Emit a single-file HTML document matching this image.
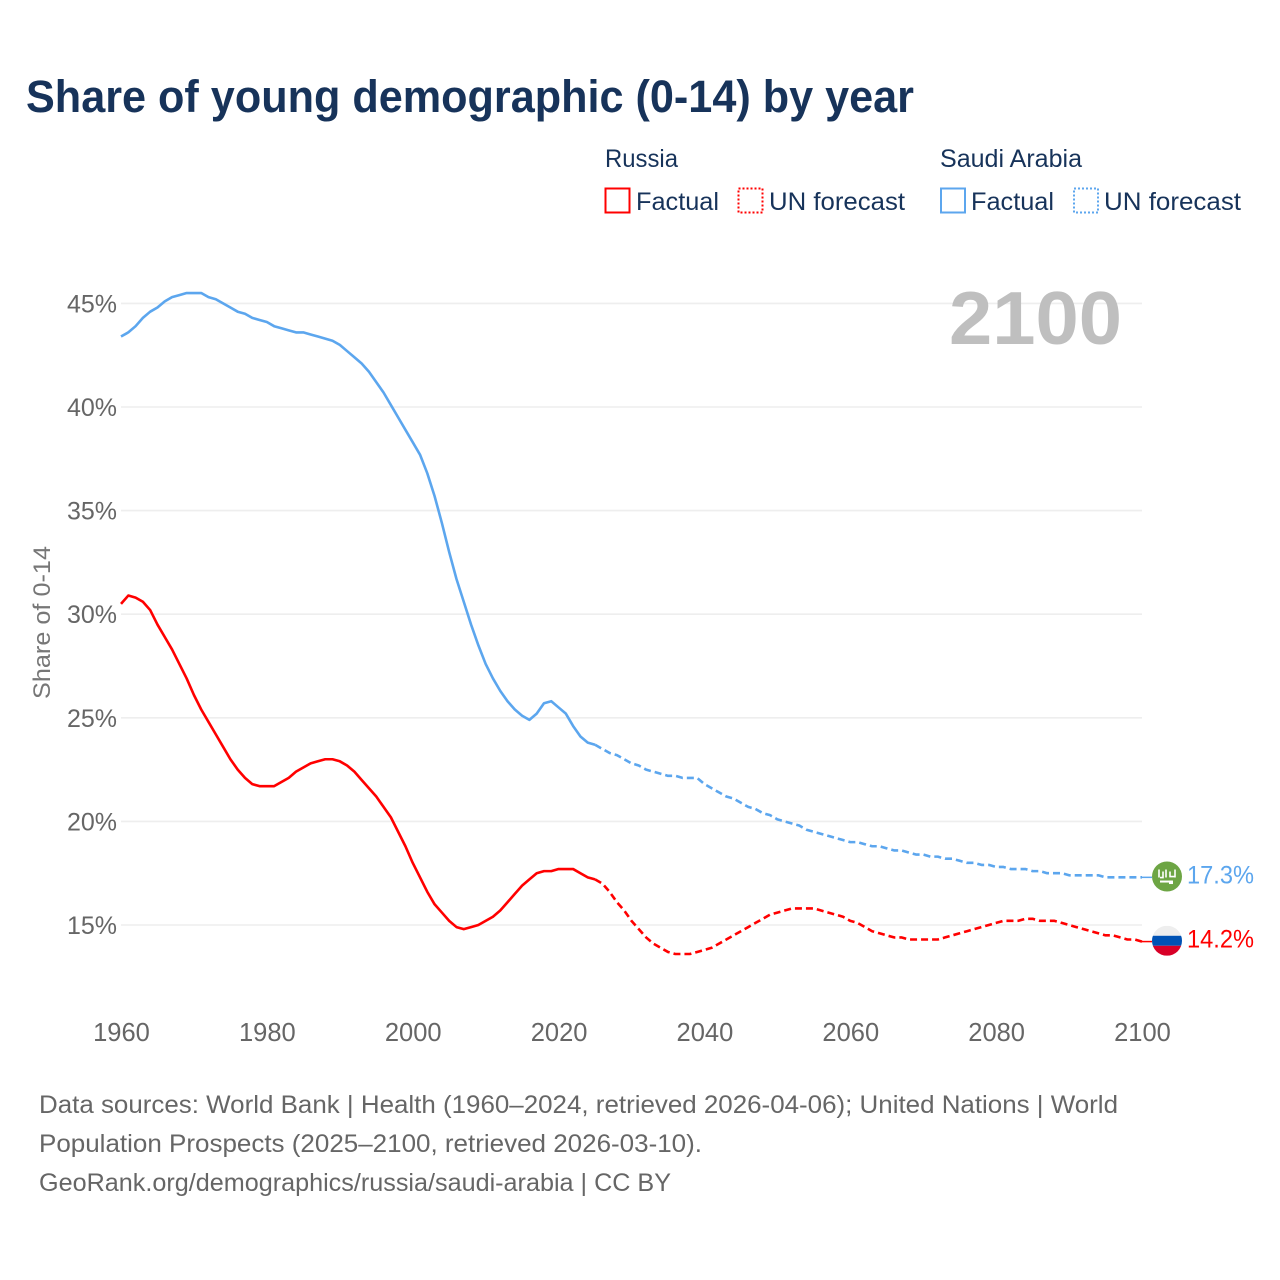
<!DOCTYPE html>
<html lang="en">
<head>
<meta charset="utf-8">
<title>Share of young demographic (0-14) by year</title>
<style>
html,body{margin:0;padding:0;background:#fff;}
svg{display:block;font-family:"Liberation Sans",sans-serif;}
</style>
</head>
<body>
<svg id="chart" xmlns="http://www.w3.org/2000/svg" width="1280" height="1280" viewBox="0 0 1280 1280">
  <rect x="0" y="0" width="1280" height="1280" fill="#ffffff"/>
  <text x="26" y="112" font-size="45" font-weight="700" fill="#17335a" textLength="888" lengthAdjust="spacingAndGlyphs">Share of young demographic (0-14) by year</text>

  <g font-size="25" fill="#17335a">
    <text x="605" y="167" textLength="73" lengthAdjust="spacingAndGlyphs">Russia</text>
    <text x="940" y="167" textLength="142" lengthAdjust="spacingAndGlyphs">Saudi Arabia</text>
    <rect x="605.5" y="188.5" width="24" height="24" fill="none" stroke="#ff0000" stroke-width="2"/>
    <text x="636" y="210" textLength="83" lengthAdjust="spacingAndGlyphs">Factual</text>
    <rect x="738.5" y="188.5" width="24" height="24" fill="none" stroke="#ff0000" stroke-width="2" stroke-dasharray="2 2"/>
    <text x="769" y="210" textLength="136" lengthAdjust="spacingAndGlyphs">UN forecast</text>
    <rect x="941" y="188.5" width="24" height="24" fill="none" stroke="#5ca6ee" stroke-width="2"/>
    <text x="971" y="210" textLength="83" lengthAdjust="spacingAndGlyphs">Factual</text>
    <rect x="1074" y="188.5" width="24" height="24" fill="none" stroke="#5ca6ee" stroke-width="2" stroke-dasharray="2 2"/>
    <text x="1104" y="210" textLength="137" lengthAdjust="spacingAndGlyphs">UN forecast</text>
  </g>

  <g id="grid"></g>
  <g id="yticks" font-size="25" fill="#666666" text-anchor="end"></g>
  <g id="xticks" font-size="25.5" fill="#666666" text-anchor="middle"></g>

  <text transform="translate(50,699) rotate(-90)" font-size="24.5" fill="#777777" textLength="153" lengthAdjust="spacingAndGlyphs">Share of 0-14</text>
  <text x="949" y="344" font-size="75" font-weight="700" fill="#bfbfbf" textLength="173" lengthAdjust="spacingAndGlyphs">2100</text>

  <g id="series"></g>

  <g id="saudi-flag">
    <circle cx="0" cy="0" r="15" fill="#6da544"/>
    <path d="M-8 -7v8M-4 -5v6h-3M-1 -7v8M3 -5v5h5v-5M8 -7v8" fill="none" stroke="#ffffff" stroke-width="1.6"/>
    <rect x="-7" y="4" width="12" height="2" fill="#ffffff"/>
    <rect x="2" y="4" width="4" height="3.5" fill="#ffffff"/>
  </g>
  <g id="russia-flag">
    <clipPath id="russia-clip"><circle cx="0" cy="0" r="15"/></clipPath>
    <g clip-path="url(#russia-clip)">
      <rect x="-15" y="-15" width="30" height="10" fill="#eeeeee"/>
      <rect x="-15" y="-5" width="30" height="10" fill="#0052b4"/>
      <rect x="-15" y="5" width="30" height="10" fill="#d80027"/>
    </g>
  </g>
  <text id="saudi-end-label" x="1187" font-size="25" fill="#5ca6ee" textLength="67" lengthAdjust="spacingAndGlyphs"></text>
  <text id="russia-end-label" x="1187" font-size="25" fill="#ff0000" textLength="67" lengthAdjust="spacingAndGlyphs"></text>

  <g font-size="25" fill="#666666">
    <text x="39" y="1113" textLength="1079" lengthAdjust="spacingAndGlyphs">Data sources: World Bank | Health (1960–2024, retrieved 2026-04-06); United Nations | World</text>
    <text x="39" y="1152" textLength="663" lengthAdjust="spacingAndGlyphs">Population Prospects (2025–2100, retrieved 2026-03-10).</text>
    <text x="39" y="1191" textLength="632" lengthAdjust="spacingAndGlyphs">GeoRank.org/demographics/russia/saudi-arabia | CC BY</text>
  </g>
</svg>
<script>
const firstFactualYear = 1960;
const firstForecastYear = 2025;
const yTickValues = [15, 20, 25, 30, 35, 40, 45];
const xTickYears = [1960, 1980, 2000, 2020, 2040, 2060, 2080, 2100];

const russiaFactual = [
  30.5,30.9,30.8,30.6,30.2,29.5,28.9,28.3,27.6,26.9,
  26.1,25.4,24.8,24.2,23.6,23.0,22.5,22.1,21.8,21.7,
  21.7,21.7,21.9,22.1,22.4,22.6,22.8,22.9,23.0,23.0,
  22.9,22.7,22.4,22.0,21.6,21.2,20.7,20.2,19.5,18.8,
  18.0,17.3,16.6,16.0,15.6,15.2,14.9,14.8,14.9,15.0,
  15.2,15.4,15.7,16.1,16.5,16.9,17.2,17.5,17.6,17.6,
  17.7,17.7,17.7,17.5,17.3,17.2
];
const russiaForecast = [
  17.2,17.0,16.6,16.1,15.7,
  15.2,14.8,14.4,14.1,13.9,13.7,13.6,13.6,13.6,13.7,
  13.8,13.9,14.1,14.3,14.5,14.7,14.9,15.1,15.3,15.5,
  15.6,15.7,15.8,15.8,15.8,15.8,15.7,15.6,15.5,15.4,
  15.2,15.1,14.9,14.7,14.6,14.5,14.4,14.4,14.3,14.3,
  14.3,14.3,14.3,14.4,14.5,14.6,14.7,14.8,14.9,15.0,
  15.1,15.2,15.2,15.2,15.3,15.3,15.2,15.2,15.2,15.1,
  15.0,14.9,14.8,14.7,14.6,14.5,14.5,14.4,14.3,14.3,
  14.2
];
const saudiFactual = [
  43.4,43.6,43.9,44.3,44.6,44.8,45.1,45.3,45.4,45.5,
  45.5,45.5,45.3,45.2,45.0,44.8,44.6,44.5,44.3,44.2,
  44.1,43.9,43.8,43.7,43.6,43.6,43.5,43.4,43.3,43.2,
  43.0,42.7,42.4,42.1,41.7,41.2,40.7,40.1,39.5,38.9,
  38.3,37.7,36.8,35.7,34.4,33.0,31.7,30.6,29.5,28.5,
  27.6,26.9,26.3,25.8,25.4,25.1,24.9,25.2,25.7,25.8,
  25.5,25.2,24.6,24.1,23.8,23.7
];
const saudiForecast = [
  23.7,23.5,23.3,23.2,23.0,
  22.8,22.7,22.5,22.4,22.3,22.2,22.2,22.1,22.1,22.1,
  21.8,21.6,21.4,21.2,21.1,20.9,20.7,20.6,20.4,20.3,
  20.1,20.0,19.9,19.8,19.6,19.5,19.4,19.3,19.2,19.1,
  19.0,19.0,18.9,18.8,18.8,18.7,18.6,18.6,18.5,18.4,
  18.4,18.3,18.3,18.2,18.2,18.1,18.0,18.0,17.9,17.9,
  17.8,17.8,17.7,17.7,17.7,17.6,17.6,17.5,17.5,17.5,
  17.4,17.4,17.4,17.4,17.4,17.3,17.3,17.3,17.3,17.3,
  17.3
];

const SVG_NS = 'http://www.w3.org/2000/svg';
function xScale(year) { return 121 + (year - 1960) * (1142 - 121) / 140; }
function yScale(v) { return 925 + (15 - v) * 20.72; }

const gridGroup = document.getElementById('grid');
const yTickGroup = document.getElementById('yticks');
yTickValues.forEach(function (v) {
  const line = document.createElementNS(SVG_NS, 'line');
  
  
  line.setAttribute('x1', xScale(1960));
  line.setAttribute('x2', xScale(2100));
  line.setAttribute('y1', yScale(v));
  line.setAttribute('y2', yScale(v));
  line.setAttribute('stroke', '#eeeeee');
  line.setAttribute('stroke-width', '1.6');
  gridGroup.appendChild(line);

  const label = document.createElementNS(SVG_NS, 'text');
  
  
  label.setAttribute('x', 117);
  label.setAttribute('y', yScale(v) + 9);
  label.textContent = v + '%';
  yTickGroup.appendChild(label);
});

const xTickGroup = document.getElementById('xticks');
xTickYears.forEach(function (year) {
  const label = document.createElementNS(SVG_NS, 'text');
  
  
  label.setAttribute('x', xScale(year) + 0.5);
  label.setAttribute('y', 1041);
  label.textContent = year;
  xTickGroup.appendChild(label);
});

function linePath(values, startYear) {
  return values.map(function (v, i) {
    return (i ? 'L' : 'M') + xScale(startYear + i).toFixed(2) + ' ' + yScale(v).toFixed(2);
  }).join(' ');
}

const seriesGroup = document.getElementById('series');
function drawSeries(name, values, startYear, color, dashed) {
  const path = document.createElementNS(SVG_NS, 'path');
  
  
  path.setAttribute('d', linePath(values, startYear));
  path.setAttribute('fill', 'none');
  path.setAttribute('stroke', color);
  path.setAttribute('stroke-width', '2.6');
  path.setAttribute('stroke-linejoin', 'round');
  if (dashed) {
    path.setAttribute('stroke-dasharray', '7 4');
  }
  seriesGroup.appendChild(path);
}
function drawEnd(name, flagId, labelId, values, color) {
  const lastValue = values[values.length - 1];
  const endY = yScale(lastValue);
  const connector = document.createElementNS(SVG_NS, 'line');
  
  
  connector.setAttribute('x1', xScale(2100));
  connector.setAttribute('x2', 1152);
  connector.setAttribute('y1', endY);
  connector.setAttribute('y2', endY);
  connector.setAttribute('stroke', color);
  connector.setAttribute('stroke-width', '1.5');
  seriesGroup.appendChild(connector);
  document.getElementById(flagId).setAttribute('transform', 'translate(1167,' + (endY - 0.8).toFixed(2) + ')');
  const label = document.getElementById(labelId);
  label.setAttribute('y', (endY + 6).toFixed(2));
  label.textContent = lastValue.toFixed(1) + '%';
}

drawSeries('saudi-arabia-factual-line', saudiFactual, firstFactualYear, '#5ca6ee', false);
drawSeries('saudi-arabia-forecast-line', saudiForecast, firstForecastYear, '#5ca6ee', true);
drawSeries('russia-factual-line', russiaFactual, firstFactualYear, '#ff0000', false);
drawSeries('russia-forecast-line', russiaForecast, firstForecastYear, '#ff0000', true);
drawEnd('saudi-arabia', 'saudi-flag', 'saudi-end-label', saudiForecast, '#5ca6ee');
drawEnd('russia', 'russia-flag', 'russia-end-label', russiaForecast, '#ff0000');
</script>
</body>
</html>
